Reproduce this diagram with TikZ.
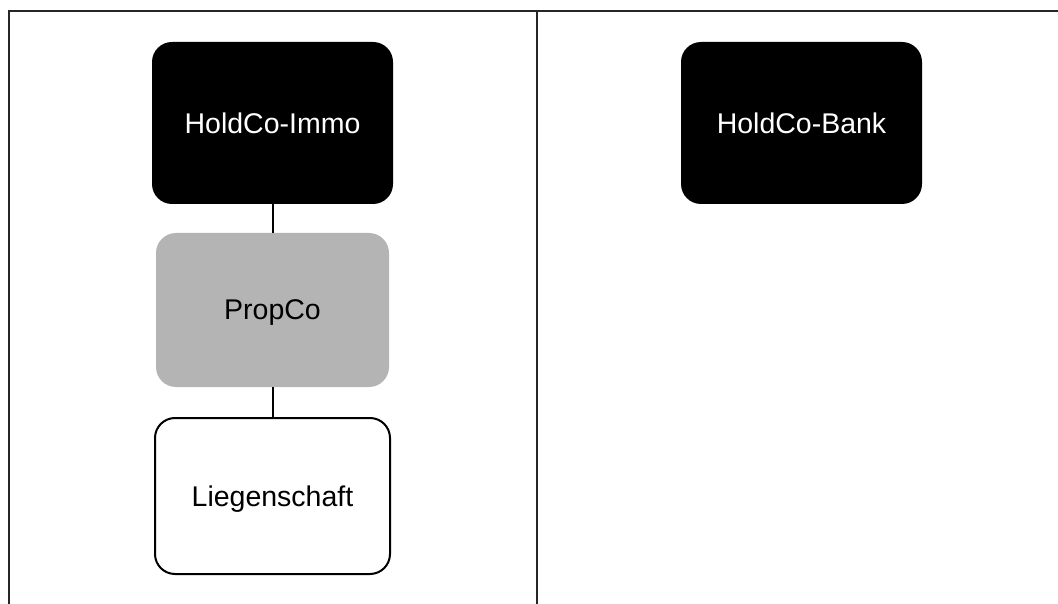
\documentclass[tikz,border=0pt]{standalone}
\usepackage{fontspec}
\setmainfont{Liberation Sans}
\definecolor{propgray}{HTML}{B4B4B4}
\begin{document}
\begin{tikzpicture}[x=1pt,y=-1pt,
  entity/.style={rectangle, rounded corners=20pt, inner sep=0pt, font=\fontsize{28.5}{32}\selectfont},
  darkbox/.style={entity, fill=black, text=white, minimum width=241pt, minimum height=162pt},
  graybox/.style={entity, fill=propgray, text=black, minimum width=233pt, minimum height=154pt},
  whitebox/.style={entity, draw=black, line width=2pt, fill=white, text=black, minimum width=235pt, minimum height=156pt},
  frameline/.style={draw=black!85, line width=1.6pt},
  link/.style={draw=black, line width=2pt}]
\useasboundingbox (0,0) rectangle (1058,604);
\coordinate (fbl) at (9,604);
\coordinate (ftl) at (9,11);
\coordinate (ftr) at (1058,11);
\coordinate (dtop) at (537,11);
\coordinate (dbot) at (537,604);
\draw[frameline] (fbl) -- (ftl) -- (ftr);
\draw[frameline, line width=2pt] (dtop) -- (dbot);
\node[darkbox, text depth=-3pt] (immo) at (272.5,123) {HoldCo-Immo};
\node[darkbox, text depth=-3pt] (bank) at (801.5,123) {HoldCo-Bank};
\node[graybox, text depth=-3pt] (prop) at (272.5,310) {PropCo};
\node[whitebox, text depth=-3pt] (lieg) at (272.5,496) {Liegenschaft};
\draw[link] (immo.south) -- (prop.north);
\draw[link] (prop.south) -- (lieg.north);
\end{tikzpicture}
\end{document}
